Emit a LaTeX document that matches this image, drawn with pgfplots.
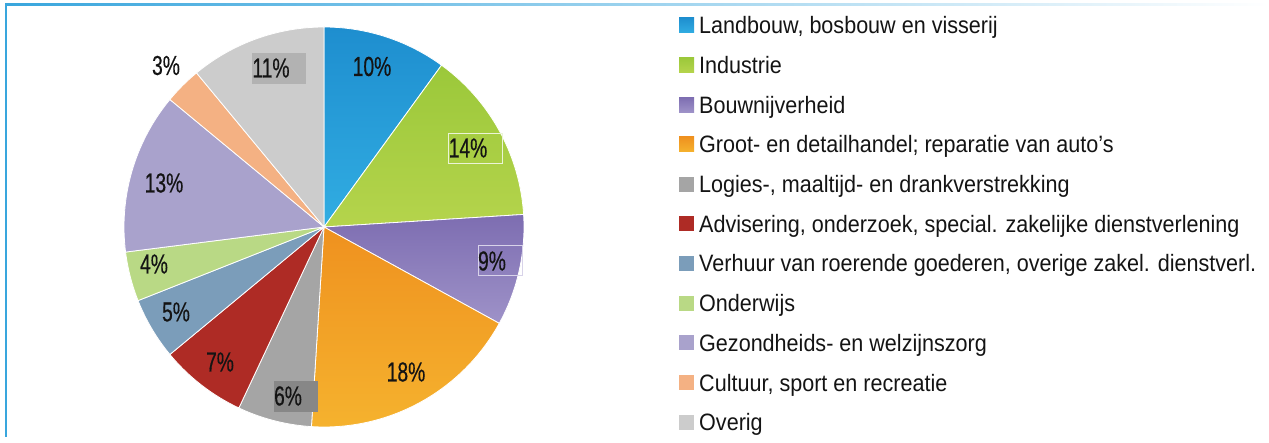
\documentclass[border=0pt]{standalone}
\usepackage{pgfplots}
\pgfplotsset{compat=1.18}
\usepackage{fontspec}
\setmainfont{Liberation Sans}
\newfontfamily\legfont[FakeStretch=0.91]{Liberation Sans}
\newfontfamily\lblfont[FakeStretch=0.70, FakeBold=0.4]{Liberation Sans}

\definecolor{frame}{HTML}{39A6DD}
\definecolor{txt}{HTML}{141414}
\definecolor{landA}{HTML}{1E8ECF}\definecolor{landB}{HTML}{31ADE2}
\definecolor{indA}{HTML}{9BC83A}\definecolor{indB}{HTML}{B5D44C}
\definecolor{bouwA}{HTML}{7D6DB1}\definecolor{bouwB}{HTML}{9E92C8}
\definecolor{handA}{HTML}{EF911F}\definecolor{handB}{HTML}{F5B22E}
\definecolor{logies}{HTML}{A5A5A5}
\definecolor{advies}{HTML}{AE2B25}
\definecolor{verhuur}{HTML}{7B9DBA}
\definecolor{onderwijs}{HTML}{B9D985}
\definecolor{zorg}{HTML}{A9A2CC}
\definecolor{cultuur}{HTML}{F4B183}
\definecolor{overig}{HTML}{CCCCCC}

% slice: percentages from a to b, clockwise from the top
\pgfplotsset{
  slice/.style={draw=white, line width=0.8bp, samples=60, smooth},
}
\newcommand{\lbl}[3]{\node[text=txt, font=\lblfont\fontsize{27.5bp}{30bp}\selectfont, inner sep=0pt] at (axis cs:#1,#2) {#3};}

\begin{document}
\begin{tikzpicture}
\begin{axis}[
    x=1bp, y=1bp,
    xmin=0, xmax=1269, ymin=0, ymax=437,
    hide axis, clip=false,
    legend cell align=left,
    legend image code/.code={\path[#1, draw=none] (0bp,-7.5bp) rectangle (15bp,7.5bp);},
    legend style={
        draw=none, fill=none, inner sep=0pt, row sep=0pt, column sep=5bp,
        at={(axis cs:679,431.85)}, anchor=north west,
        font=\legfont\fontsize{23.7bp}{28bp}\selectfont, text=txt,
        nodes={inner sep=0pt, text height=28.35bp, text depth=11.35bp},
    },
]
\path (axis cs:0,0) rectangle (axis cs:1269,437);
\fill[left color=frame, right color=white] (axis cs:5,431) rectangle (axis cs:1269,433.5);
\fill[frame] (axis cs:5,0) rectangle (axis cs:7,433.5);

\addplot[slice, top color=landA, bottom color=landB, domain=0:10]
    ({324+200*sin(3.6*x)}, {210+200*cos(3.6*x)}) -- (axis cs:324,210) -- cycle;
\addlegendentry{Landbouw, bosbouw en visserij}
\addplot[slice, top color=indA, bottom color=indB, domain=10:24]
    ({324+200*sin(3.6*x)}, {210+200*cos(3.6*x)}) -- (axis cs:324,210) -- cycle;
\addlegendentry{Industrie}
\addplot[slice, top color=bouwA, bottom color=bouwB, domain=24:33]
    ({324+200*sin(3.6*x)}, {210+200*cos(3.6*x)}) -- (axis cs:324,210) -- cycle;
\addlegendentry{Bouwnijverheid}
\addplot[slice, top color=handA, bottom color=handB, domain=33:51]
    ({324+200*sin(3.6*x)}, {210+200*cos(3.6*x)}) -- (axis cs:324,210) -- cycle;
\addlegendentry{Groot- en detailhandel; reparatie van auto’s}
\addplot[slice, fill=logies, domain=51:57]
    ({324+200*sin(3.6*x)}, {210+200*cos(3.6*x)}) -- (axis cs:324,210) -- cycle;
\addlegendentry{Logies-, maaltijd- en drankverstrekking}
\addplot[slice, fill=advies, domain=57:64]
    ({324+200*sin(3.6*x)}, {210+200*cos(3.6*x)}) -- (axis cs:324,210) -- cycle;
\addlegendentry{Advisering, onderzoek, special. zakelijke dienstverlening}
\addplot[slice, fill=verhuur, domain=64:69]
    ({324+200*sin(3.6*x)}, {210+200*cos(3.6*x)}) -- (axis cs:324,210) -- cycle;
\addlegendentry{Verhuur van roerende goederen, overige zakel. dienstverl.}
\addplot[slice, fill=onderwijs, domain=69:73]
    ({324+200*sin(3.6*x)}, {210+200*cos(3.6*x)}) -- (axis cs:324,210) -- cycle;
\addlegendentry{Onderwijs}
\addplot[slice, fill=zorg, domain=73:86]
    ({324+200*sin(3.6*x)}, {210+200*cos(3.6*x)}) -- (axis cs:324,210) -- cycle;
\addlegendentry{Gezondheids- en welzijnszorg}
\addplot[slice, fill=cultuur, domain=86:89]
    ({324+200*sin(3.6*x)}, {210+200*cos(3.6*x)}) -- (axis cs:324,210) -- cycle;
\addlegendentry{Cultuur, sport en recreatie}
\addplot[slice, fill=overig, domain=89:100]
    ({324+200*sin(3.6*x)}, {210+200*cos(3.6*x)}) -- (axis cs:324,210) -- cycle;
\addlegendentry{Overig}

% label boxes
\fill[black!30] (axis cs:252,353) rectangle (axis cs:306,384);
\fill[black!47] (axis cs:274,25) rectangle (axis cs:318,56);
\draw[white!80!indA, line width=0.6bp] (axis cs:448,274) rectangle (axis cs:502,304);
\draw[white!60!bouwB, line width=0.6bp] (axis cs:478,162) rectangle (axis cs:522,192);

\lbl{372}{370.5}{10\%}
\lbl{468}{289}{14\%}
\lbl{492}{176}{9\%}
\lbl{406}{65}{18\%}
\lbl{288}{41}{6\%}
\lbl{220}{75}{7\%}
\lbl{176}{125}{5\%}
\lbl{154}{173}{4\%}
\lbl{164}{254}{13\%}
\lbl{166}{371.5}{3\%}
\lbl{271}{369}{11\%}
\end{axis}
\end{tikzpicture}
\end{document}
